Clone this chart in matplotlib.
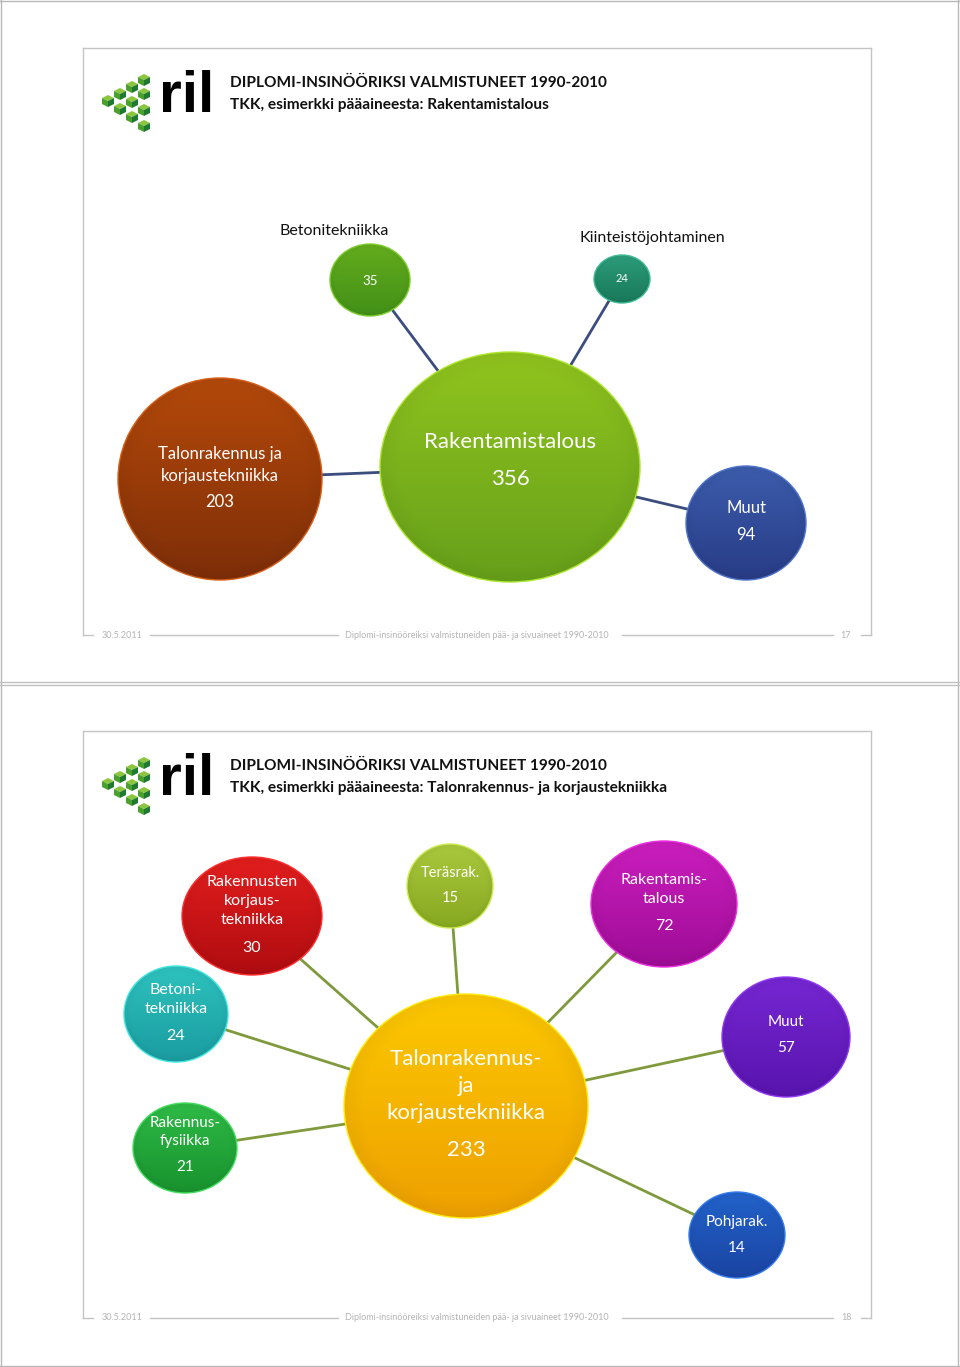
import numpy as np
import matplotlib.pyplot as plt
from matplotlib.patches import Ellipse, Polygon
from matplotlib.colors import to_rgb

plt.rcParams['font.family'] = ['Lato', 'DejaVu Sans']

# ---- data ----
otsikko = "DIPLOMI-INSINÖÖRIKSI VALMISTUNEET 1990-2010"
alaotsikot = ["TKK, esimerkki pääaineesta: Rakentamistalous",
              "TKK, esimerkki pääaineesta: Talonrakennus- ja korjaustekniikka"]
alatunniste = "Diplomi-insinööreiksi valmistuneiden pää- ja sivuaineet 1990-2010"
pvm = "30.5.2011"
sivut = ["17", "18"]

# slide 17
nimet1 = ["Rakentamistalous", "Talonrakennus ja\nkorjaustekniikka", "Muut", "", ""]
arvot1 = [356, 203, 94, 35, 24]
ylanimet1 = ["", "", "", "Betonitekniikka", "Kiinteistöjohtaminen"]

# slide 18
nimet2 = ["Talonrakennus-\nja\nkorjaustekniikka", "Rakennusten\nkorjaus-\ntekniikka", "Teräsrak.",
          "Rakentamis-\ntalous", "Betoni-\ntekniikka", "Rakennus-\nfysiikka", "Muut", "Pohjarak."]
arvot2 = [233, 30, 15, 72, 24, 21, 57, 14]

# ---- layout (pixels) ----
pos1 = [(510, 467), (220, 479), (746, 523), (370, 280), (622, 279)]
rad1 = [(130, 115), (102, 101), (60, 57), (40, 36), (28, 24)]
col1 = [("#90c41e", "#66a01a"), ("#b4490a", "#7e2e08"), ("#3c5cac", "#283c86"),
        ("#64ac1c", "#429018"), ("#2c9c7a", "#187858")]
fs1 = [16, 12, 12, 9.5, 8]
dy1 = [(-25, 12), (-14, 23), (-15, 12), (0, 1), (0, 0)]
ylapos1 = [None, None, None, (334, 231), (652, 238)]

pos2 = [(466, 1106), (252, 916), (450, 886), (664, 904), (176, 1014), (185, 1148), (786, 1037), (737, 1235)]
rad2 = [(122, 112), (70, 59), (43, 42), (73, 63), (52, 48), (52, 45), (64, 60), (48, 43)]
col2 = [("#fcc800", "#eea000"), ("#e21e1e", "#b00c10"), ("#aac83c", "#86a820"),
        ("#ca1ebe", "#9e0c96"), ("#2ec2be", "#1a9ca0"), ("#2eba46", "#18922e"),
        ("#7626d2", "#5814ae"), ("#2262ca", "#1a44a2")]
fs2 = [16, 11.5, 10.5, 11.5, 11.5, 11, 11, 11]
dy2 = [(-20, 44), (-15, 32), (-13, 12), (-14.5, 22), (-14.5, 22), (-16, 19), (-15, 11), (-13, 13)]

fig = plt.figure(figsize=(9.6, 13.67), dpi=100)
ax = fig.add_axes([0, 0, 1, 1])
ax.set_xlim(0, 960)
ax.set_ylim(1367, 0)
ax.axis('off')

gray = "#c4c4c4"


def kupla(cx, cy, rx, ry, varit, nimi, arvo, fs, dy):
    ylä = np.array(to_rgb(varit[0]))
    ala = np.array(to_rgb(varit[1]))
    yy, xx = np.mgrid[-1:1:120j, -1:1:120j]
    t = ((yy + 1) / 2)[..., None]
    img = ylä * (1 - t) + ala * t
    r = np.sqrt(xx ** 2 + yy ** 2)
    img = img * (1 - 0.25 * np.clip(r - 0.85, 0, 1)[..., None])
    img = np.clip(img, 0, 1)
    e = Ellipse((cx, cy), 2 * rx, 2 * ry, facecolor='none', edgecolor='none', zorder=3)
    ax.add_patch(e)
    im = ax.imshow(img, extent=(cx - rx, cx + rx, cy + ry, cy - ry), origin='upper',
                   zorder=3, interpolation='bilinear', aspect='auto')
    im.set_clip_path(e)
    ax.add_patch(Ellipse((cx, cy), 2 * rx, 2 * ry, facecolor='none',
                         edgecolor=np.clip(ylä * 1.1 + 0.06, 0, 1), lw=1.0, zorder=4))
    if nimi:
        ax.text(cx, cy + dy[0], nimi, color='white', fontsize=fs, ha='center',
                va='center', linespacing=1.42, zorder=5)
    ax.text(cx, cy + dy[1], f"{arvo}", color='white', fontsize=fs, ha='center',
            va='center', zorder=5)


def kuutio(x, y, s=6):
    top = [(x, y - s), (x + s, y - s * 0.5), (x, y), (x - s, y - s * 0.5)]
    left = [(x - s, y - s * 0.5), (x, y), (x, y + s), (x - s, y + s * 0.5)]
    right = [(x, y), (x + s, y - s * 0.5), (x + s, y + s * 0.5), (x, y + s)]
    ax.add_patch(Polygon(top, closed=True, fc="#8cc63f", ec='none', zorder=3))
    ax.add_patch(Polygon(left, closed=True, fc="#4aa02c", ec='none', zorder=3))
    ax.add_patch(Polygon(right, closed=True, fc="#1f7a30", ec='none', zorder=3))


def dia(y0, y1, alaotsikko, sivu):
    # slide frame
    ax.plot([83, 871], [y0, y0], color=gray, lw=1)
    ax.plot([83, 83], [y0, y1], color=gray, lw=1)
    ax.plot([871, 871], [y0, y1], color=gray, lw=1)
    ax.plot([83, 93], [y1, y1], color=gray, lw=1)
    ax.plot([861, 871], [y1, y1], color=gray, lw=1)
    ax.plot([150, 338], [y1, y1], color=gray, lw=1)
    ax.plot([622, 833], [y1, y1], color=gray, lw=1)
    fk = dict(color="#b4b4b4", fontsize=6.5, va='center')
    ax.text(102, y1, pvm, ha='left', **fk)
    ax.text(477, y1, alatunniste, ha='center', **fk)
    ax.text(846, y1, sivu, ha='center', **fk)
    # logo
    ly = y0 + 32
    for dx, dy in [(38, 0), (26, 7), (38, 14), (14, 14), (2, 21), (26, 22), (14, 29), (38, 30), (26, 37), (38, 46)]:
        kuutio(106 + dx, ly + dy)
    ax.text(187, ly + 17, "ril", fontsize=42, fontweight='heavy', ha='center', va='center',
            family=['Liberation Sans', 'DejaVu Sans'], color='black')
    ax.text(230, y0 + 35, otsikko, fontsize=11.1, fontweight='bold', va='center', color='#111111')
    ax.text(230, y0 + 57, alaotsikko, fontsize=11.1, fontweight='bold', va='center', color='#111111')


# page borders
ax.plot([1, 1], [0, 1367], color="#b8b8b8", lw=1)
ax.plot([958, 958], [0, 1367], color="#b8b8b8", lw=1)
ax.plot([0, 960], [1, 1], color="#b8b8b8", lw=1)
ax.plot([0, 960], [682, 682], color="#c0c0c0", lw=1)
ax.plot([0, 960], [684.5, 684.5], color="#c0c0c0", lw=1)
ax.plot([0, 960], [1366, 1366], color="#b8b8b8", lw=1)

dia(48, 635, alaotsikot[0], sivut[0])
dia(731, 1318, alaotsikot[1], sivut[1])

# slide 17 connectors and bubbles
for i in range(1, len(pos1)):
    ax.plot([pos1[0][0], pos1[i][0]], [pos1[0][1], pos1[i][1]], color="#3b4d7e", lw=2, zorder=2)
for i in range(len(arvot1)):
    kupla(pos1[i][0], pos1[i][1], rad1[i][0], rad1[i][1], col1[i], nimet1[i], arvot1[i], fs1[i], dy1[i])
    if ylanimet1[i]:
        ax.text(ylapos1[i][0], ylapos1[i][1], ylanimet1[i], fontsize=11.5, ha='center',
                va='center', color='#111111')

# slide 18 connectors and bubbles
for i in range(1, len(pos2)):
    ax.plot([pos2[0][0], pos2[i][0]], [pos2[0][1], pos2[i][1]], color="#7f9a3c", lw=2, zorder=2)
for i in range(len(arvot2)):
    kupla(pos2[i][0], pos2[i][1], rad2[i][0], rad2[i][1], col2[i], nimet2[i], arvot2[i], fs2[i], dy2[i])

fig.savefig("out.png", dpi=100)
